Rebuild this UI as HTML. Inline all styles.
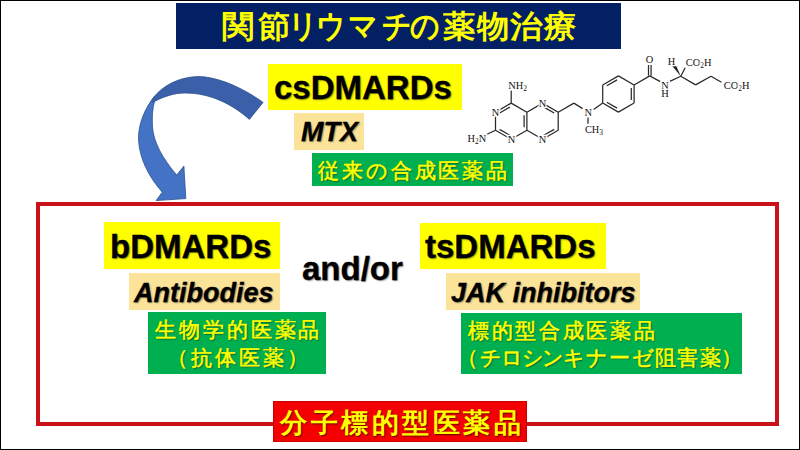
<!DOCTYPE html>
<html><head><meta charset="utf-8">
<style>
html,body{margin:0;padding:0;}
body{width:800px;height:450px;position:relative;overflow:hidden;background:#fff;font-family:"Liberation Sans",sans-serif;}
.frame{position:absolute;left:0;top:0;width:798px;height:448px;border:1px solid #000;}
.box{position:absolute;}
.t{position:absolute;white-space:nowrap;}
.eng{font-weight:bold;color:#000;-webkit-text-stroke:0.3px #000;text-shadow:1px 1px 1.5px rgba(0,0,0,0.45);}
.yel{background:#ffff00;}
.tan{background:#fbe49a;}
.grn{background:#00af50;}
.jp{color:#ffff00;font-weight:normal;-webkit-text-stroke:0.45px #ffff00;text-shadow:1px 1px 1.5px rgba(0,0,0,0.55);}
</style></head>
<body>
<div class="frame"></div>

<!-- title -->
<div class="box" style="left:176px;top:3px;width:444.5px;height:45.5px;background:#022063;"></div>
<span class="t jp" style="left:222px;top:11px;font-size:32px;line-height:32px;transform:scaleY(0.96);transform-origin:0 1px;text-shadow:none;font-weight:bold;-webkit-text-stroke:0px;">関</span>
<span class="t jp" style="left:258px;top:11px;font-size:32px;line-height:32px;transform:scaleY(0.96);transform-origin:0 1px;text-shadow:none;font-weight:bold;-webkit-text-stroke:0px;">節</span>
<span class="t jp" style="left:288.2px;top:10.5px;font-size:29px;line-height:29px;transform:scaleY(1.1);transform-origin:0 2px;text-shadow:none;font-weight:bold;-webkit-text-stroke:0px;">リ</span>
<span class="t jp" style="left:316px;top:10.5px;font-size:29px;line-height:29px;transform:scaleY(1.1);transform-origin:0 2px;text-shadow:none;font-weight:bold;-webkit-text-stroke:0px;">ウ</span>
<span class="t jp" style="left:348px;top:10.5px;font-size:29px;line-height:29px;transform:scaleY(1.1);transform-origin:0 2px;text-shadow:none;font-weight:bold;-webkit-text-stroke:0px;">マ</span>
<span class="t jp" style="left:381.5px;top:10.5px;font-size:29px;line-height:29px;transform:scaleY(1.1);transform-origin:0 2px;text-shadow:none;font-weight:bold;-webkit-text-stroke:0px;">チ</span>
<span class="t jp" style="left:410px;top:10.5px;font-size:29px;line-height:29px;transform:scaleY(1.1);transform-origin:0 2px;text-shadow:none;font-weight:bold;-webkit-text-stroke:0px;">の</span>
<span class="t jp" style="left:443px;top:11px;font-size:32px;line-height:32px;transform:scaleY(0.96);transform-origin:0 1px;text-shadow:none;font-weight:bold;-webkit-text-stroke:0px;">薬</span>
<span class="t jp" style="left:477px;top:11px;font-size:32px;line-height:32px;transform:scaleY(0.96);transform-origin:0 1px;text-shadow:none;font-weight:bold;-webkit-text-stroke:0px;">物</span>
<span class="t jp" style="left:509.5px;top:11px;font-size:32px;line-height:32px;transform:scaleY(0.96);transform-origin:0 1px;text-shadow:none;font-weight:bold;-webkit-text-stroke:0px;">治</span>
<span class="t jp" style="left:544px;top:11px;font-size:32px;line-height:32px;transform:scaleY(0.96);transform-origin:0 1px;text-shadow:none;font-weight:bold;-webkit-text-stroke:0px;">療</span>

<!-- arrow -->
<svg class="box" style="left:0;top:0" width="800" height="450" viewBox="0 0 800 450">
  <path d="M154.5,96.3 C145,108 138,124 138.5,140 C139.5,158 148,176 162.2,192.2 L156.1,200.6 L185.8,198.6 L183.9,166.1 L176.7,175 C163,159 153.2,142 152.4,126 C152,116 152.6,108 154.5,101.5 Z" fill="#4472c4" stroke="#2f528f" stroke-width="0.8"/>
  <path d="M263.1,102.4 C240,86 215,76 196.5,76.6 C178,77.5 163,86 154.5,96.3 C151,100 151,103 154.5,101.5 C165,96 175,93 185,93 C210,93 232,104 249.4,119.4 Z" fill="#3b5fa9" stroke="#2f528f" stroke-width="0.8"/>
</svg>

<!-- csDMARDs group -->
<div class="box yel" style="left:268px;top:64px;width:194px;height:46px;"></div>
<div class="t eng" style="left:274px;top:70.6px;font-size:33px;line-height:33px;">csDMARDs</div>
<div class="box tan" style="left:294px;top:113px;width:70px;height:37px;"></div>
<div class="t eng" style="left:301px;top:118.9px;font-size:27px;line-height:27px;font-style:italic;">MTX</div>
<div class="box grn" style="left:311.5px;top:152.5px;width:201px;height:33px;"></div>
<div class="t jp" style="left:318px;top:153.8px;line-height:33px;font-size:21.2px;letter-spacing:2.9px;-webkit-text-stroke:0.55px #ffff00;">従来の合成医薬品</div>

<!-- red frame -->
<div class="box" style="left:36px;top:202px;width:735px;height:215.5px;border:4px solid #c81118;"></div>

<!-- bDMARDs -->
<div class="box yel" style="left:104px;top:222px;width:176px;height:46.5px;"></div>
<div class="t eng" style="left:110px;top:229.6px;font-size:33px;line-height:33px;">bDMARDs</div>
<div class="box tan" style="left:129px;top:273.3px;width:150.6px;height:37.2px;"></div>
<div class="t eng" style="left:134px;top:280.2px;font-size:27px;line-height:27px;font-style:italic;">Antibodies</div>
<div class="box grn" style="left:148px;top:312.3px;width:177.5px;height:61.5px;"></div>
<div class="t jp" style="left:150px;top:316.3px;width:177.5px;text-align:center;line-height:27.5px;font-size:21.2px;letter-spacing:2.9px;-webkit-text-stroke:0.55px #ffff00;">生物学的医薬品<br>（抗体医薬）</div>

<!-- and/or -->
<div class="t eng" style="left:302px;top:251.6px;font-size:33px;line-height:33px;">and/or</div>

<!-- tsDMARDs -->
<div class="box yel" style="left:420px;top:223px;width:185.5px;height:45.8px;"></div>
<div class="t eng" style="left:425px;top:230.2px;font-size:33px;line-height:33px;">tsDMARDs</div>
<div class="box tan" style="left:445.5px;top:273px;width:194.7px;height:37px;"></div>
<div class="t eng" style="left:451px;top:280.3px;font-size:27px;line-height:27px;font-style:italic;">JAK inhibitors</div>
<div class="box grn" style="left:461.4px;top:312.5px;width:280.5px;height:61.9px;"></div>
<div class="t jp" style="left:468px;top:316.8px;line-height:27.5px;font-size:21.2px;letter-spacing:2.7px;-webkit-text-stroke:0.55px #ffff00;">標的型合成医薬品<br><span style="margin-left:-11.5px">（</span><span style="letter-spacing:-1.3px">チロシン</span><span style="letter-spacing:1px">キ</span><span style="letter-spacing:1.3px">ナーゼ阻害薬</span><span style="margin-left:-1px">）</span></div>

<!-- red label -->
<div class="box" style="left:273px;top:400.7px;width:252.3px;height:39.7px;background:#f40000;border:1px solid #c80000;"></div>
<div class="t jp" style="left:280px;top:403px;line-height:41px;font-size:27px;letter-spacing:3.5px;font-weight:bold;-webkit-text-stroke:0px;">分子標的型医薬品</div>

<!-- structure -->
<svg class="box" style="left:0;top:0" width="800" height="450" viewBox="0 0 800 450">
<path d="M511.2,103.1L526.9,112.2M526.9,112.2L526.9,130.2M526.9,130.2L511.2,139.3M511.2,139.3L495.5,130.2M495.5,130.2L495.5,112.2M495.5,112.2L511.2,103.1M509.9,107.1L499.6,113.0M499.6,129.4L509.9,135.3M524.1,115.2L524.1,127.2M542.6,103.1L558.2,112.2M558.2,112.2L558.2,130.2M558.2,130.2L542.6,139.3M542.6,139.3L526.9,130.2M526.9,112.2L542.6,103.1M543.8,107.1L554.2,113.0M554.2,129.4L543.8,135.3M618.4,75.9L634.1,85.0M634.1,85.0L634.1,103.0M634.1,103.0L618.4,112.1M618.4,112.1L602.7,103.0M602.7,103.0L602.7,85.0M602.7,85.0L618.4,75.9M606.8,85.8L617.1,79.9M631.3,88.0L631.3,100.0M606.8,102.2L617.1,108.1M511.2,103.1L511.2,90.5M495.5,130.2L485.0,135.2M558.2,112.2L573.9,103.1M573.9,103.1L582.6,108.6M593.6,109.4L602.7,103.0M588.0,117.6L588.0,123.8M634.1,85.0L649.8,75.9M648.5,75.4L648.5,65.0M651.1,75.4L651.1,65.0M649.8,75.9L660.3,81.6M669.8,81.4L680.8,76.3M680.8,76.3L685.2,67.8M680.8,76.3L695.6,84.9M695.6,84.9L711.0,76.2M711.0,76.2L721.4,82.2" stroke="#2a2a2a" stroke-width="1.25" fill="none" stroke-linecap="butt"/>
<path d="M680.8,76.3L672.4,66.2L675.6,64.6Z" fill="#222"/>
<g font-family="Liberation Serif" font-size="10.4" fill="#111" stroke="#fff" stroke-width="2.6" paint-order="stroke" stroke-linejoin="round">
<text x="495.6" y="115.7" text-anchor="middle">N</text><text x="511.4" y="143.4" text-anchor="middle">N</text><text x="542.5" y="107.0" text-anchor="middle">N</text><text x="542.5" y="143.1" text-anchor="middle">N</text><text x="588.3" y="115.6" text-anchor="middle">N</text><text x="508.3" y="89.3">NH<tspan font-size="7.5" dy="2">2</tspan></text><text x="467.6" y="142.0">H<tspan font-size="7.5" dy="2">2</tspan><tspan dy="-2">N</tspan></text><text x="584.9" y="133.1">CH<tspan font-size="7.5" dy="2">3</tspan></text><text x="649.5" y="63.2" text-anchor="middle">O</text><text x="665.0" y="88.6" text-anchor="middle">N</text><text x="665.0" y="96.6" text-anchor="middle">H</text><text x="671.5" y="64.6" text-anchor="middle">H</text><text x="685.8" y="65.5">CO<tspan font-size="7.5" dy="2">2</tspan><tspan dy="-2">H</tspan></text><text x="723.8" y="89.2">CO<tspan font-size="7.5" dy="2">2</tspan><tspan dy="-2">H</tspan></text>
</g>
</svg>
</body></html>
